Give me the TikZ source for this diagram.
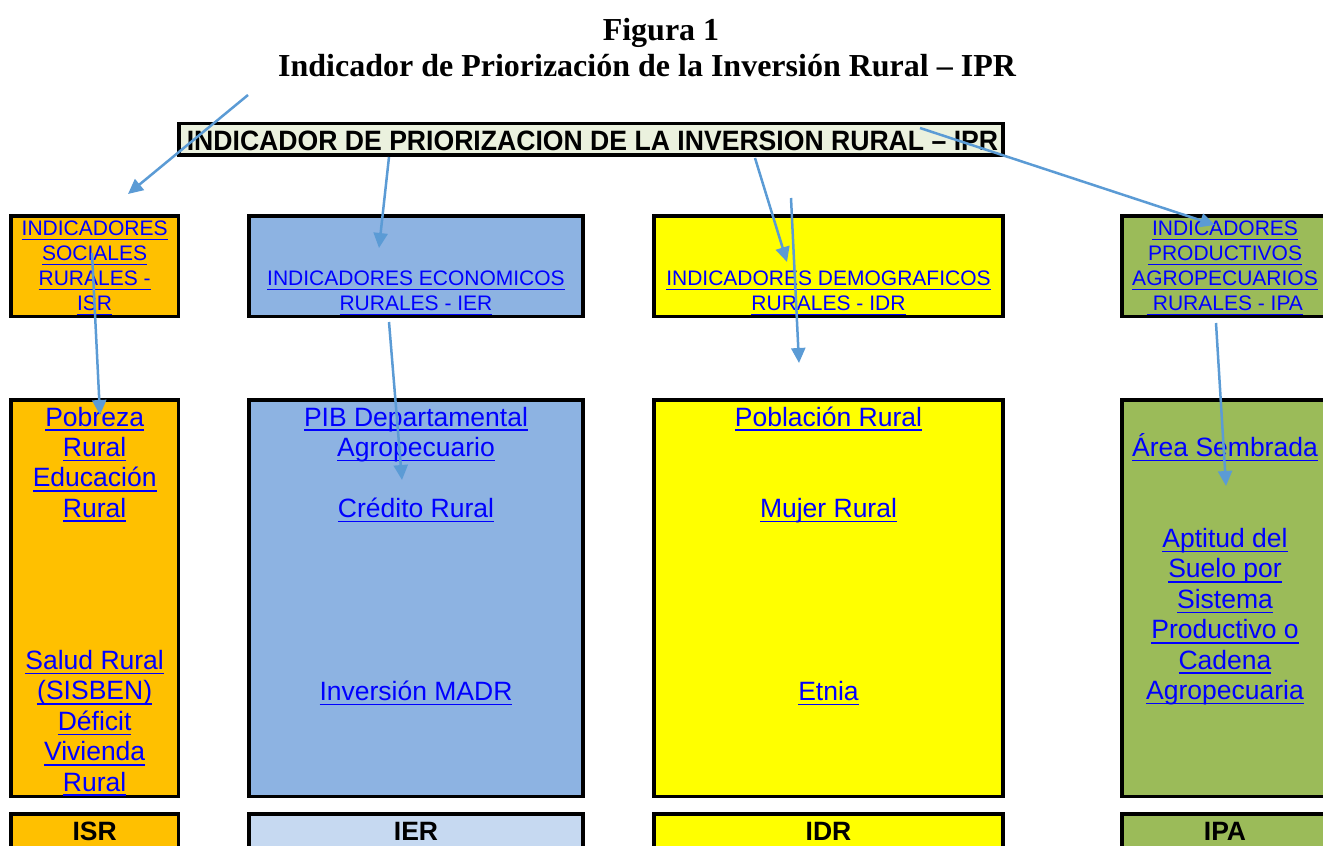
\documentclass[tikz,border=0pt]{standalone}
\usepackage{fontspec}
\setmainfont{Liberation Serif}
\newfontfamily\arial{Liberation Sans}
\usetikzlibrary{arrows.meta}
\definecolor{topfill}{HTML}{EBF1DE}
\definecolor{orangefill}{HTML}{FFC000}
\definecolor{bluefill}{HTML}{8DB3E2}
\definecolor{lightbluefill}{HTML}{C6D9F1}
\definecolor{yellowfill}{HTML}{FFFF00}
\definecolor{greenfill}{HTML}{9BBB59}
\definecolor{arrowblue}{HTML}{5B9BD5}
\definecolor{linkblue}{HTML}{0000FF}
\newsavebox\lkbox
\newcommand\lk[1]{\sbox\lkbox{#1}\rlap{\color{linkblue}\rule[-4.9pt]{\wd\lkbox}{1.7pt}}\usebox\lkbox}
\begin{document}
\begin{tikzpicture}[x=1pt,y=-1pt,
  box/.style={draw=black,line width=3.4pt,inner sep=0pt,outer sep=0pt},
  titletext/.style={font=\bfseries\fontsize{32}{35}\selectfont,anchor=base,inner sep=0pt},
  toptext/.style={font=\arial\bfseries\fontsize{28}{30}\selectfont,anchor=base,inner sep=0pt},
  lvltwo/.style={font=\arial\fontsize{21}{25}\selectfont,text=linkblue,align=center,anchor=base,inner sep=0pt},
  lvlthree/.style={font=\arial\fontsize{26.5}{30.4}\selectfont,text=linkblue,align=center,anchor=base,inner sep=0pt},
  bottomtext/.style={font=\arial\bfseries\fontsize{26.5}{30}\selectfont,anchor=base,inner sep=0pt},
  conn/.style={draw=arrowblue,line width=2.5pt,-{Triangle[length=15pt,width=14pt]}}]
\useasboundingbox (0,0) rectangle (1323,846);
\clip (0,0) rectangle (1323,846);

% titles
\node[titletext] (fig) at (661,40.5) {Figura 1};
\node[titletext] (title) at (647,76) {Indicador de Priorización de la Inversión Rural – IPR};

% top box
\node[box,fill=topfill,minimum width=824pt,minimum height=31.5pt] (ipr) at (591,139.25) {};
\node[toptext] (iprtext) at (592.5,150) {\scalebox{0.95}[1]{INDICADOR DE PRIORIZACION DE LA INVERSION RURAL – IPR}};

% level 2 boxes
\node[box,fill=orangefill,minimum width=167.3pt,minimum height=100.3pt] (isr2) at (94.65,266.15) {};
\node[box,fill=bluefill,minimum width=334pt,minimum height=100.3pt] (ier2) at (416,266.15) {};
\node[box,fill=yellowfill,minimum width=349pt,minimum height=100.3pt] (idr2) at (828.5,266.15) {};
\node[box,fill=greenfill,minimum width=208pt,minimum height=100.3pt] (ipa2) at (1226,266.15) {};

% (anchor base = baseline of the last line)
\node[lvltwo] (isr2t) at (94.65,310.5) {\lk{INDICADORES}\\\lk{SOCIALES}\\\lk{RURALES -}\\\lk{ISR}};
\node[lvltwo] (ier2t) at (416,310.5) {\lk{INDICADORES ECONOMICOS}\\\lk{RURALES - IER}};
\node[lvltwo] (idr2t) at (828.5,310.5) {\lk{INDICADORES DEMOGRAFICOS}\\\lk{RURALES - IDR}};
\node[lvltwo] (ipa2t) at (1225,310.5) {\lk{INDICADORES}\\\lk{PRODUCTIVOS}\\\lk{AGROPECUARIOS}\\\lk{~RURALES - IPA}};

% level 3 boxes
\node[box,fill=orangefill,minimum width=167.3pt,minimum height=396.7pt] (isr3) at (94.65,598.35) {};
\node[box,fill=bluefill,minimum width=334pt,minimum height=396.7pt] (ier3) at (416,598.35) {};
\node[box,fill=yellowfill,minimum width=349pt,minimum height=396.7pt] (idr3) at (828.5,598.35) {};
\node[box,fill=greenfill,minimum width=208pt,minimum height=396.7pt] (ipa3) at (1226,598.35) {};

\node[lvlthree] (isr3a) at (94.65,517.2) {\lk{Pobreza}\\\lk{Rural}\\\lk{Educación}\\\lk{Rural}};
\node[lvlthree] (isr3b) at (94.65,791.1) {\lk{Salud Rural}\\\lk{(SISBEN)}\\\lk{Déficit}\\\lk{Vivienda}\\\lk{Rural}};
\node[lvlthree] (ier3a) at (416,456.4) {\lk{PIB Departamental}\\\lk{Agropecuario}};
\node[lvlthree] (ier3b) at (416,517.5) {\lk{Crédito Rural}};
\node[lvlthree] (ier3c) at (416,700.5) {\lk{Inversión MADR}};
\node[lvlthree] (idr3a) at (828.5,426) {\lk{Población Rural}};
\node[lvlthree] (idr3b) at (828.5,517.5) {\lk{Mujer Rural}};
\node[lvlthree] (idr3c) at (828.5,700.5) {\lk{Etnia}};
\node[lvlthree] (ipa3a) at (1225,456.5) {\lk{Área Sembrada}};
\node[lvlthree] (ipa3b) at (1225,699.5) {\lk{Aptitud del}\\\lk{Suelo por}\\\lk{Sistema}\\\lk{Productivo o}\\\lk{Cadena}\\\lk{Agropecuaria}};

% bottom row
\node[box,fill=orangefill,minimum width=167.3pt,minimum height=50pt] (isr4) at (94.65,839) {};
\node[box,fill=lightbluefill,minimum width=334pt,minimum height=50pt] (ier4) at (416,839) {};
\node[box,fill=yellowfill,minimum width=349pt,minimum height=50pt] (idr4) at (828.5,839) {};
\node[box,fill=greenfill,minimum width=208pt,minimum height=50pt] (ipa4) at (1226,839) {};
\node[bottomtext] (isr4t) at (94.65,840) {ISR};
\node[bottomtext] (ier4t) at (416,840) {IER};
\node[bottomtext] (idr4t) at (828.5,840) {IDR};
\node[bottomtext] (ipa4t) at (1225,840) {IPA};

% arrow end points
\coordinate (a1s) at (248,95);   \coordinate (a1e) at (128,194);
\coordinate (a2s) at (389,157);  \coordinate (a2e) at (379,248);
\coordinate (a3s) at (755,158);  \coordinate (a3e) at (787,262);
\coordinate (a4s) at (920,128);  \coordinate (a4e) at (1215,225);
\coordinate (a5s) at (791,198);  \coordinate (a5e) at (799,363);
\coordinate (a6s) at (92,253);   \coordinate (a6e) at (100,415);
\coordinate (a7s) at (389,322);  \coordinate (a7e) at (402,480);
\coordinate (a8s) at (1216,323); \coordinate (a8e) at (1226,486);

\draw[conn] (a1s) -- (a1e);
\draw[conn] (a2s) -- (a2e);
\draw[conn] (a3s) -- (a3e);
\draw[conn] (a4s) -- (a4e);
\draw[conn] (a5s) -- (a5e);
\draw[conn] (a6s) -- (a6e);
\draw[conn] (a7s) -- (a7e);
\draw[conn] (a8s) -- (a8e);
\end{tikzpicture}
\end{document}
